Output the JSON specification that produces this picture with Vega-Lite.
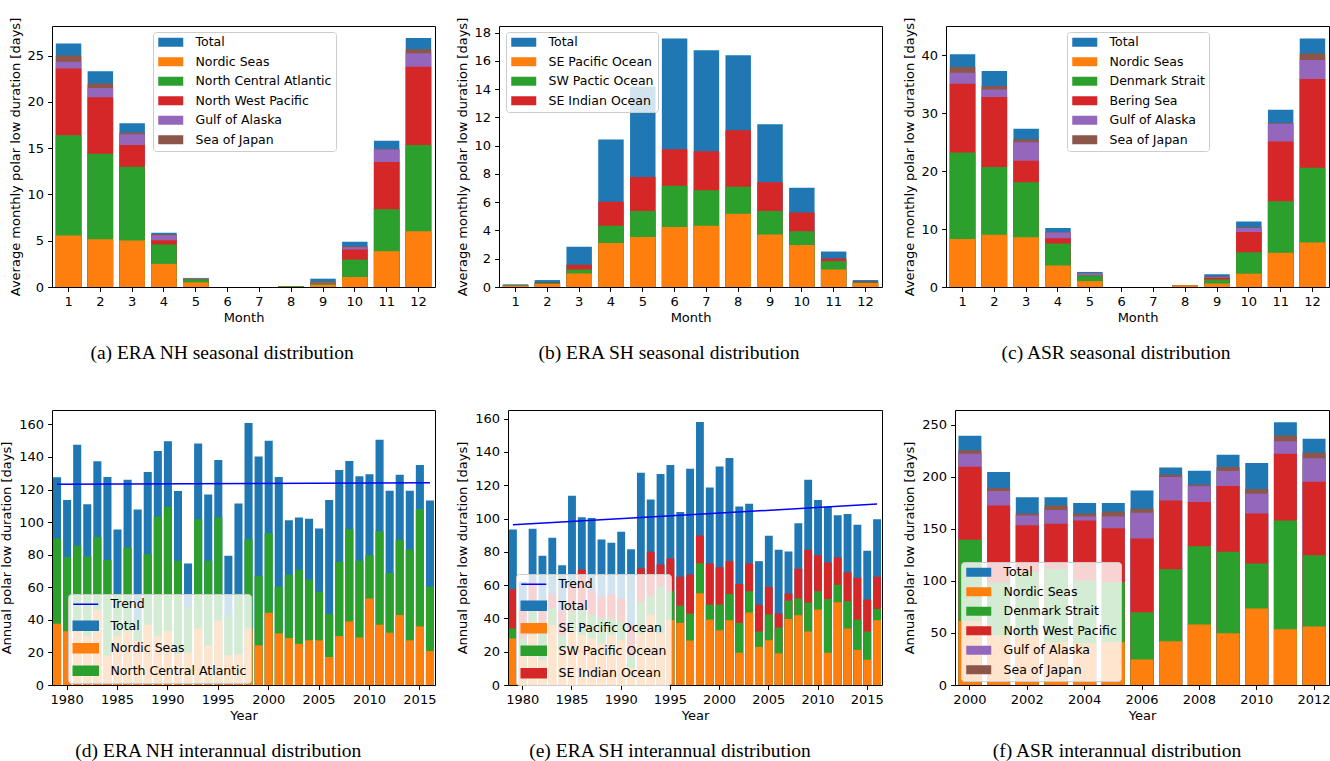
{
  "$schema": "https://vega.github.io/schema/vega-lite/v6.json",
  "padding": {"left": 0, "top": 16, "right": 0, "bottom": 0},
  "background": "white",
  "spacing": 45,
  "resolve": {"scale": {"color": "independent"}, "legend": {"color": "independent"}},
  "vconcat": [
    {
      "hconcat": [
        {
          "width": 383, "height": 261,
          "title": "(a) ERA NH seasonal distribution",
          "data": {"values": [
            {"m":1,"s":"Total","v":26.3},{"m":2,"s":"Total","v":23.3},{"m":3,"s":"Total","v":17.7},{"m":4,"s":"Total","v":5.85},{"m":5,"s":"Total","v":0.98},{"m":6,"s":"Total","v":0},{"m":7,"s":"Total","v":0},{"m":8,"s":"Total","v":0.1},{"m":9,"s":"Total","v":0.9},{"m":10,"s":"Total","v":4.9},{"m":11,"s":"Total","v":15.8},{"m":12,"s":"Total","v":26.9},
            {"m":1,"s":"Sea of Japan","v":25.0},{"m":2,"s":"Sea of Japan","v":22.0},{"m":3,"s":"Sea of Japan","v":16.7},{"m":4,"s":"Sea of Japan","v":5.7},{"m":5,"s":"Sea of Japan","v":0.96},{"m":8,"s":"Sea of Japan","v":0.1},{"m":9,"s":"Sea of Japan","v":0.6},{"m":10,"s":"Sea of Japan","v":4.4},{"m":11,"s":"Sea of Japan","v":14.9},{"m":12,"s":"Sea of Japan","v":25.7},
            {"m":1,"s":"Gulf of Alaska","v":24.35},{"m":2,"s":"Gulf of Alaska","v":21.5},{"m":3,"s":"Gulf of Alaska","v":16.5},{"m":4,"s":"Gulf of Alaska","v":5.6},{"m":5,"s":"Gulf of Alaska","v":0.95},{"m":8,"s":"Gulf of Alaska","v":0.1},{"m":9,"s":"Gulf of Alaska","v":0.55},{"m":10,"s":"Gulf of Alaska","v":4.3},{"m":11,"s":"Gulf of Alaska","v":14.85},{"m":12,"s":"Gulf of Alaska","v":25.25},
            {"m":1,"s":"North West Pacific","v":23.6},{"m":2,"s":"North West Pacific","v":20.5},{"m":3,"s":"North West Pacific","v":15.35},{"m":4,"s":"North West Pacific","v":5.05},{"m":5,"s":"North West Pacific","v":0.87},{"m":8,"s":"North West Pacific","v":0.1},{"m":9,"s":"North West Pacific","v":0.47},{"m":10,"s":"North West Pacific","v":4.05},{"m":11,"s":"North West Pacific","v":13.5},{"m":12,"s":"North West Pacific","v":23.8},
            {"m":1,"s":"North Central Atlantic","v":16.4},{"m":2,"s":"North Central Atlantic","v":14.4},{"m":3,"s":"North Central Atlantic","v":13.0},{"m":4,"s":"North Central Atlantic","v":4.6},{"m":5,"s":"North Central Atlantic","v":0.85},{"m":8,"s":"North Central Atlantic","v":0.1},{"m":9,"s":"North Central Atlantic","v":0.4},{"m":10,"s":"North Central Atlantic","v":2.96},{"m":11,"s":"North Central Atlantic","v":8.4},{"m":12,"s":"North Central Atlantic","v":15.35},
            {"m":1,"s":"Nordic Seas","v":5.56},{"m":2,"s":"Nordic Seas","v":5.17},{"m":3,"s":"Nordic Seas","v":5.02},{"m":4,"s":"Nordic Seas","v":2.5},{"m":5,"s":"Nordic Seas","v":0.5},{"m":8,"s":"Nordic Seas","v":0.02},{"m":9,"s":"Nordic Seas","v":0.25},{"m":10,"s":"Nordic Seas","v":1.08},{"m":11,"s":"Nordic Seas","v":3.87},{"m":12,"s":"Nordic Seas","v":6.03}
          ]},
          "mark": "bar",
          "encoding": {
            "x": {"field": "m", "type": "ordinal", "title": "Month", "scale": {"paddingInner": 0.2, "paddingOuter": 0.12}},
            "y": {"field": "v", "type": "quantitative", "stack": null, "title": "Average monthly polar low duration [days]", "scale": {"domain": [0, 28.2], "nice": false}, "axis": {"values": [0, 5, 10, 15, 20, 25]}},
            "color": {"field": "s", "type": "nominal",
              "scale": {"domain": ["Total", "Nordic Seas", "North Central Atlantic", "North West Pacific", "Gulf of Alaska", "Sea of Japan"], "range": ["#1f77b4", "#ff7f0e", "#2ca02c", "#d62728", "#9467bd", "#8c564b"]},
              "legend": {"title": null, "orient": "none", "legendX": 101, "legendY": 6}}
          }
        },
        {
          "width": 383, "height": 261,
          "title": "(b) ERA SH seasonal distribution",
          "data": {"values": [
            {"m":1,"s":"Total","v":0.19},{"m":2,"s":"Total","v":0.49},{"m":3,"s":"Total","v":2.84},{"m":4,"s":"Total","v":10.44},{"m":5,"s":"Total","v":14.17},{"m":6,"s":"Total","v":17.58},{"m":7,"s":"Total","v":16.76},{"m":8,"s":"Total","v":16.4},{"m":9,"s":"Total","v":11.52},{"m":10,"s":"Total","v":7.02},{"m":11,"s":"Total","v":2.51},{"m":12,"s":"Total","v":0.49},
            {"m":1,"s":"SE Indian Ocean","v":0.14},{"m":2,"s":"SE Indian Ocean","v":0.33},{"m":3,"s":"SE Indian Ocean","v":1.57},{"m":4,"s":"SE Indian Ocean","v":6.03},{"m":5,"s":"SE Indian Ocean","v":7.79},{"m":6,"s":"SE Indian Ocean","v":9.74},{"m":7,"s":"SE Indian Ocean","v":9.6},{"m":8,"s":"SE Indian Ocean","v":11.1},{"m":9,"s":"SE Indian Ocean","v":7.42},{"m":10,"s":"SE Indian Ocean","v":5.28},{"m":11,"s":"SE Indian Ocean","v":2.02},{"m":12,"s":"SE Indian Ocean","v":0.38},
            {"m":1,"s":"SW Pactic Ocean","v":0.12},{"m":2,"s":"SW Pactic Ocean","v":0.28},{"m":3,"s":"SW Pactic Ocean","v":1.24},{"m":4,"s":"SW Pactic Ocean","v":4.34},{"m":5,"s":"SW Pactic Ocean","v":5.37},{"m":6,"s":"SW Pactic Ocean","v":7.16},{"m":7,"s":"SW Pactic Ocean","v":6.85},{"m":8,"s":"SW Pactic Ocean","v":7.09},{"m":9,"s":"SW Pactic Ocean","v":5.37},{"m":10,"s":"SW Pactic Ocean","v":3.94},{"m":11,"s":"SW Pactic Ocean","v":1.83},{"m":12,"s":"SW Pactic Ocean","v":0.33},
            {"m":1,"s":"SE Pacific Ocean","v":0.09},{"m":2,"s":"SE Pacific Ocean","v":0.21},{"m":3,"s":"SE Pacific Ocean","v":0.96},{"m":4,"s":"SE Pacific Ocean","v":3.12},{"m":5,"s":"SE Pacific Ocean","v":3.54},{"m":6,"s":"SE Pacific Ocean","v":4.25},{"m":7,"s":"SE Pacific Ocean","v":4.34},{"m":8,"s":"SE Pacific Ocean","v":5.19},{"m":9,"s":"SE Pacific Ocean","v":3.71},{"m":10,"s":"SE Pacific Ocean","v":2.98},{"m":11,"s":"SE Pacific Ocean","v":1.24},{"m":12,"s":"SE Pacific Ocean","v":0.28}
          ]},
          "mark": "bar",
          "encoding": {
            "x": {"field": "m", "type": "ordinal", "title": "Month", "scale": {"paddingInner": 0.2, "paddingOuter": 0.12}},
            "y": {"field": "v", "type": "quantitative", "stack": null, "title": "Average monthly polar low duration [days]", "scale": {"domain": [0, 18.47], "nice": false}, "axis": {"values": [0, 2, 4, 6, 8, 10, 12, 14, 16, 18]}},
            "color": {"field": "s", "type": "nominal",
              "scale": {"domain": ["Total", "SE Pacific Ocean", "SW Pactic Ocean", "SE Indian Ocean"], "range": ["#1f77b4", "#ff7f0e", "#2ca02c", "#d62728"]},
              "legend": {"title": null, "orient": "none", "legendX": 7, "legendY": 6}}
          }
        },
        {
          "width": 383, "height": 261,
          "title": "(c) ASR seasonal distribution",
          "data": {"values": [
            {"m":1,"s":"Total","v":40.2},{"m":2,"s":"Total","v":37.3},{"m":3,"s":"Total","v":27.3},{"m":4,"s":"Total","v":10.2},{"m":5,"s":"Total","v":2.6},{"m":6,"s":"Total","v":0},{"m":7,"s":"Total","v":0},{"m":8,"s":"Total","v":0.3},{"m":9,"s":"Total","v":2.2},{"m":10,"s":"Total","v":11.3},{"m":11,"s":"Total","v":30.6},{"m":12,"s":"Total","v":42.9},
            {"m":1,"s":"Sea of Japan","v":38.0},{"m":2,"s":"Sea of Japan","v":34.7},{"m":3,"s":"Sea of Japan","v":25.5},{"m":4,"s":"Sea of Japan","v":9.5},{"m":5,"s":"Sea of Japan","v":2.4},{"m":8,"s":"Sea of Japan","v":0.3},{"m":9,"s":"Sea of Japan","v":1.8},{"m":10,"s":"Sea of Japan","v":10.3},{"m":11,"s":"Sea of Japan","v":28.3},{"m":12,"s":"Sea of Japan","v":40.3},
            {"m":1,"s":"Gulf of Alaska","v":37.0},{"m":2,"s":"Gulf of Alaska","v":34.1},{"m":3,"s":"Gulf of Alaska","v":25.0},{"m":4,"s":"Gulf of Alaska","v":9.4},{"m":5,"s":"Gulf of Alaska","v":2.35},{"m":8,"s":"Gulf of Alaska","v":0.3},{"m":9,"s":"Gulf of Alaska","v":1.75},{"m":10,"s":"Gulf of Alaska","v":10.2},{"m":11,"s":"Gulf of Alaska","v":28.2},{"m":12,"s":"Gulf of Alaska","v":39.2},
            {"m":1,"s":"Bering Sea","v":35.1},{"m":2,"s":"Bering Sea","v":32.8},{"m":3,"s":"Bering Sea","v":21.8},{"m":4,"s":"Bering Sea","v":8.4},{"m":5,"s":"Bering Sea","v":2.0},{"m":8,"s":"Bering Sea","v":0.3},{"m":9,"s":"Bering Sea","v":1.6},{"m":10,"s":"Bering Sea","v":9.5},{"m":11,"s":"Bering Sea","v":25.1},{"m":12,"s":"Bering Sea","v":35.9},
            {"m":1,"s":"Denmark Strait","v":23.2},{"m":2,"s":"Denmark Strait","v":20.7},{"m":3,"s":"Denmark Strait","v":18.1},{"m":4,"s":"Denmark Strait","v":7.5},{"m":5,"s":"Denmark Strait","v":2.0},{"m":8,"s":"Denmark Strait","v":0.3},{"m":9,"s":"Denmark Strait","v":1.3},{"m":10,"s":"Denmark Strait","v":6.0},{"m":11,"s":"Denmark Strait","v":14.8},{"m":12,"s":"Denmark Strait","v":20.6},
            {"m":1,"s":"Nordic Seas","v":8.3},{"m":2,"s":"Nordic Seas","v":9.0},{"m":3,"s":"Nordic Seas","v":8.6},{"m":4,"s":"Nordic Seas","v":3.7},{"m":5,"s":"Nordic Seas","v":1.0},{"m":8,"s":"Nordic Seas","v":0.3},{"m":9,"s":"Nordic Seas","v":0.6},{"m":10,"s":"Nordic Seas","v":2.3},{"m":11,"s":"Nordic Seas","v":5.9},{"m":12,"s":"Nordic Seas","v":7.7}
          ]},
          "mark": "bar",
          "encoding": {
            "x": {"field": "m", "type": "ordinal", "title": "Month", "scale": {"paddingInner": 0.2, "paddingOuter": 0.12}},
            "y": {"field": "v", "type": "quantitative", "stack": null, "title": "Average monthly polar low duration [days]", "scale": {"domain": [0, 45.06], "nice": false}, "axis": {"values": [0, 10, 20, 30, 40]}},
            "color": {"field": "s", "type": "nominal",
              "scale": {"domain": ["Total", "Nordic Seas", "Denmark Strait", "Bering Sea", "Gulf of Alaska", "Sea of Japan"], "range": ["#1f77b4", "#ff7f0e", "#2ca02c", "#d62728", "#9467bd", "#8c564b"]},
              "legend": {"title": null, "orient": "none", "legendX": 121, "legendY": 6}}
          }
        }
      ],
      "spacing": 64,
      "bounds": "flush",
      "resolve": {"scale": {"color": "independent"}, "legend": {"color": "independent"}}
    },
    {
      "hconcat": [
        {
          "width": 383, "height": 275,
          "title": "(d) ERA NH interannual distribution",
          "encoding": {
            "x": {"field": "year", "type": "ordinal", "title": "Year", "scale": {"paddingInner": 0.2, "paddingOuter": 0.1}, "axis": {"values": [1980, 1985, 1990, 1995, 2000, 2005, 2010, 2015]}},
            "y": {"field": "v", "type": "quantitative", "stack": null, "title": "Annual polar low duration [days]", "scale": {"domain": [0, 168.8], "nice": false}, "axis": {"values": [0, 20, 40, 60, 80, 100, 120, 140, 160]}},
            "color": {"field": "s", "type": "nominal",
              "scale": {"domain": ["Trend", "Total", "Nordic Seas", "North Central Atlantic"], "range": ["#0000ff", "#1f77b4", "#ff7f0e", "#2ca02c"]},
              "legend": {"title": null, "orient": "none", "legendX": 16, "legendY": 184,
                "encode": {"symbols": {"update": {
                  "shape": {"signal": "datum.value === 'Trend' ? 'M-1,0L4,0' : 'M-1,-0.9L4,-0.9L4,0.9L-1,0.9Z'"},
                  "fill": {"signal": "datum.value === 'Trend' ? 'transparent' : datum.value === 'Total' ? '#1f77b4' : datum.value === 'Nordic Seas' ? '#ff7f0e' : '#2ca02c'"},
                  "stroke": {"signal": "datum.value === 'Trend' ? '#0000ff' : 'transparent'"},
                  "strokeWidth": {"value": 1.5},
                  "opacity": {"value": 1}
                }}}}}
          },
          "layer": [
            {
              "data": {"values": [
                {"year":1979,"s":"Total","v":127.5},{"year":1980,"s":"Total","v":113.6},{"year":1981,"s":"Total","v":147.5},{"year":1982,"s":"Total","v":111},{"year":1983,"s":"Total","v":137.3},{"year":1984,"s":"Total","v":127.7},{"year":1985,"s":"Total","v":95.4},{"year":1986,"s":"Total","v":126},{"year":1987,"s":"Total","v":107.7},{"year":1988,"s":"Total","v":130.8},{"year":1989,"s":"Total","v":143.6},{"year":1990,"s":"Total","v":149.6},{"year":1991,"s":"Total","v":119.1},{"year":1992,"s":"Total","v":74.6},{"year":1993,"s":"Total","v":148.3},{"year":1994,"s":"Total","v":116.9},{"year":1995,"s":"Total","v":138.1},{"year":1996,"s":"Total","v":79.3},{"year":1997,"s":"Total","v":111.4},{"year":1998,"s":"Total","v":160.8},{"year":1999,"s":"Total","v":140.2},{"year":2000,"s":"Total","v":150},{"year":2001,"s":"Total","v":127.7},{"year":2002,"s":"Total","v":101.1},{"year":2003,"s":"Total","v":102.8},{"year":2004,"s":"Total","v":102},{"year":2005,"s":"Total","v":96},{"year":2006,"s":"Total","v":113.6},{"year":2007,"s":"Total","v":132},{"year":2008,"s":"Total","v":137.5},{"year":2009,"s":"Total","v":128.1},{"year":2010,"s":"Total","v":129.3},{"year":2011,"s":"Total","v":150.6},{"year":2012,"s":"Total","v":119.3},{"year":2013,"s":"Total","v":129},{"year":2014,"s":"Total","v":119.3},{"year":2015,"s":"Total","v":135},{"year":2016,"s":"Total","v":113.2},
                {"year":1979,"s":"North Central Atlantic","v":90.1},{"year":1980,"s":"North Central Atlantic","v":78.5},{"year":1981,"s":"North Central Atlantic","v":85.4},{"year":1982,"s":"North Central Atlantic","v":78.9},{"year":1983,"s":"North Central Atlantic","v":90.9},{"year":1984,"s":"North Central Atlantic","v":76.8},{"year":1985,"s":"North Central Atlantic","v":56},{"year":1986,"s":"North Central Atlantic","v":84.2},{"year":1987,"s":"North Central Atlantic","v":40},{"year":1988,"s":"North Central Atlantic","v":80.3},{"year":1989,"s":"North Central Atlantic","v":103.2},{"year":1990,"s":"North Central Atlantic","v":109.3},{"year":1991,"s":"North Central Atlantic","v":76.2},{"year":1992,"s":"North Central Atlantic","v":48},{"year":1993,"s":"North Central Atlantic","v":101.8},{"year":1994,"s":"North Central Atlantic","v":76.2},{"year":1995,"s":"North Central Atlantic","v":102.8},{"year":1996,"s":"North Central Atlantic","v":43},{"year":1997,"s":"North Central Atlantic","v":56},{"year":1998,"s":"North Central Atlantic","v":89.5},{"year":1999,"s":"North Central Atlantic","v":67},{"year":2000,"s":"North Central Atlantic","v":93.2},{"year":2001,"s":"North Central Atlantic","v":60.5},{"year":2002,"s":"North Central Atlantic","v":67.6},{"year":2003,"s":"North Central Atlantic","v":70.7},{"year":2004,"s":"North Central Atlantic","v":64.8},{"year":2005,"s":"North Central Atlantic","v":57.2},{"year":2006,"s":"North Central Atlantic","v":43.7},{"year":2007,"s":"North Central Atlantic","v":75.6},{"year":2008,"s":"North Central Atlantic","v":95.6},{"year":2009,"s":"North Central Atlantic","v":76.2},{"year":2010,"s":"North Central Atlantic","v":79.7},{"year":2011,"s":"North Central Atlantic","v":94.4},{"year":2012,"s":"North Central Atlantic","v":68.7},{"year":2013,"s":"North Central Atlantic","v":89.1},{"year":2014,"s":"North Central Atlantic","v":83.2},{"year":2015,"s":"North Central Atlantic","v":108.1},{"year":2016,"s":"North Central Atlantic","v":60.3},
                {"year":1979,"s":"Nordic Seas","v":37.6},{"year":1980,"s":"Nordic Seas","v":33},{"year":1981,"s":"Nordic Seas","v":35},{"year":1982,"s":"Nordic Seas","v":30},{"year":1983,"s":"Nordic Seas","v":46},{"year":1984,"s":"Nordic Seas","v":18},{"year":1985,"s":"Nordic Seas","v":30},{"year":1986,"s":"Nordic Seas","v":33},{"year":1987,"s":"Nordic Seas","v":27},{"year":1988,"s":"Nordic Seas","v":37},{"year":1989,"s":"Nordic Seas","v":30},{"year":1990,"s":"Nordic Seas","v":33},{"year":1991,"s":"Nordic Seas","v":19.2},{"year":1992,"s":"Nordic Seas","v":19.6},{"year":1993,"s":"Nordic Seas","v":34.7},{"year":1994,"s":"Nordic Seas","v":24.3},{"year":1995,"s":"Nordic Seas","v":39.4},{"year":1996,"s":"Nordic Seas","v":18.2},{"year":1997,"s":"Nordic Seas","v":18.6},{"year":1998,"s":"Nordic Seas","v":34.7},{"year":1999,"s":"Nordic Seas","v":24.3},{"year":2000,"s":"Nordic Seas","v":44.3},{"year":2001,"s":"Nordic Seas","v":31.7},{"year":2002,"s":"Nordic Seas","v":28.8},{"year":2003,"s":"Nordic Seas","v":25.3},{"year":2004,"s":"Nordic Seas","v":27.4},{"year":2005,"s":"Nordic Seas","v":27.4},{"year":2006,"s":"Nordic Seas","v":17.2},{"year":2007,"s":"Nordic Seas","v":30},{"year":2008,"s":"Nordic Seas","v":39},{"year":2009,"s":"Nordic Seas","v":29.2},{"year":2010,"s":"Nordic Seas","v":53.1},{"year":2011,"s":"Nordic Seas","v":37},{"year":2012,"s":"Nordic Seas","v":32.1},{"year":2013,"s":"Nordic Seas","v":42.9},{"year":2014,"s":"Nordic Seas","v":27.4},{"year":2015,"s":"Nordic Seas","v":36},{"year":2016,"s":"Nordic Seas","v":20.8}
              ]},
              "mark": "bar"
            },
            {
              "data": {"values": [{"year":1979,"s":"Trend","v":123.2},{"year":2016,"s":"Trend","v":124.1}]},
              "mark": {"type": "line", "strokeWidth": 1.5}
            }
          ]
        },
        {
          "width": 374, "height": 275,
          "title": "(e) ERA SH interannual distribution",
          "encoding": {
            "x": {"field": "year", "type": "ordinal", "title": "Year", "scale": {"paddingInner": 0.2, "paddingOuter": 0.1}, "axis": {"values": [1980, 1985, 1990, 1995, 2000, 2005, 2010, 2015]}},
            "y": {"field": "v", "type": "quantitative", "stack": null, "title": "Annual polar low duration [days]", "scale": {"domain": [0, 165.2], "nice": false}, "axis": {"values": [0, 20, 40, 60, 80, 100, 120, 140, 160]}},
            "color": {"field": "s", "type": "nominal",
              "scale": {"domain": ["Trend", "Total", "SE Pacific Ocean", "SW Pacific Ocean", "SE Indian Ocean"], "range": ["#0000ff", "#1f77b4", "#ff7f0e", "#2ca02c", "#d62728"]},
              "legend": {"title": null, "orient": "none", "legendX": 8, "legendY": 164,
                "encode": {"symbols": {"update": {
                  "shape": {"signal": "datum.value === 'Trend' ? 'M-1,0L4,0' : 'M-1,-0.9L4,-0.9L4,0.9L-1,0.9Z'"},
                  "fill": {"signal": "datum.value === 'Trend' ? 'transparent' : datum.value === 'Total' ? '#1f77b4' : datum.value === 'SE Pacific Ocean' ? '#ff7f0e' : datum.value === 'SW Pacific Ocean' ? '#2ca02c' : '#d62728'"},
                  "stroke": {"signal": "datum.value === 'Trend' ? '#0000ff' : 'transparent'"},
                  "strokeWidth": {"value": 1.5},
                  "opacity": {"value": 1}
                }}}}}
          },
          "layer": [
            {
              "data": {"values": [
                {"year":1979,"s":"Total","v":93.4},{"year":1980,"s":"Total","v":62},{"year":1981,"s":"Total","v":93.8},{"year":1982,"s":"Total","v":77.6},{"year":1983,"s":"Total","v":88.4},{"year":1984,"s":"Total","v":72},{"year":1985,"s":"Total","v":113.7},{"year":1986,"s":"Total","v":100.7},{"year":1987,"s":"Total","v":100.3},{"year":1988,"s":"Total","v":87.4},{"year":1989,"s":"Total","v":85.4},{"year":1990,"s":"Total","v":92},{"year":1991,"s":"Total","v":81.6},{"year":1992,"s":"Total","v":127.5},{"year":1993,"s":"Total","v":111.5},{"year":1994,"s":"Total","v":126.7},{"year":1995,"s":"Total","v":132.1},{"year":1996,"s":"Total","v":103.9},{"year":1997,"s":"Total","v":129.9},{"year":1998,"s":"Total","v":158},{"year":1999,"s":"Total","v":118.7},{"year":2000,"s":"Total","v":131.3},{"year":2001,"s":"Total","v":136.3},{"year":2002,"s":"Total","v":107.3},{"year":2003,"s":"Total","v":108.9},{"year":2004,"s":"Total","v":74.4},{"year":2005,"s":"Total","v":89.6},{"year":2006,"s":"Total","v":81.2},{"year":2007,"s":"Total","v":80.2},{"year":2008,"s":"Total","v":97.2},{"year":2009,"s":"Total","v":123.3},{"year":2010,"s":"Total","v":111.1},{"year":2011,"s":"Total","v":107.1},{"year":2012,"s":"Total","v":101.9},{"year":2013,"s":"Total","v":102.7},{"year":2014,"s":"Total","v":96.2},{"year":2015,"s":"Total","v":80.6},{"year":2016,"s":"Total","v":99.6},
                {"year":1979,"s":"SE Indian Ocean","v":57.5},{"year":1980,"s":"SE Indian Ocean","v":45},{"year":1981,"s":"SE Indian Ocean","v":62},{"year":1982,"s":"SE Indian Ocean","v":50},{"year":1983,"s":"SE Indian Ocean","v":54.7},{"year":1984,"s":"SE Indian Ocean","v":45},{"year":1985,"s":"SE Indian Ocean","v":60},{"year":1986,"s":"SE Indian Ocean","v":69.4},{"year":1987,"s":"SE Indian Ocean","v":56.7},{"year":1988,"s":"SE Indian Ocean","v":53},{"year":1989,"s":"SE Indian Ocean","v":54.5},{"year":1990,"s":"SE Indian Ocean","v":52},{"year":1991,"s":"SE Indian Ocean","v":36},{"year":1992,"s":"SE Indian Ocean","v":70.2},{"year":1993,"s":"SE Indian Ocean","v":80},{"year":1994,"s":"SE Indian Ocean","v":72.4},{"year":1995,"s":"SE Indian Ocean","v":76},{"year":1996,"s":"SE Indian Ocean","v":65},{"year":1997,"s":"SE Indian Ocean","v":66.4},{"year":1998,"s":"SE Indian Ocean","v":89.8},{"year":1999,"s":"SE Indian Ocean","v":73},{"year":2000,"s":"SE Indian Ocean","v":70.8},{"year":2001,"s":"SE Indian Ocean","v":74.4},{"year":2002,"s":"SE Indian Ocean","v":60.6},{"year":2003,"s":"SE Indian Ocean","v":73},{"year":2004,"s":"SE Indian Ocean","v":48.3},{"year":2005,"s":"SE Indian Ocean","v":58.9},{"year":2006,"s":"SE Indian Ocean","v":42.9},{"year":2007,"s":"SE Indian Ocean","v":54.9},{"year":2008,"s":"SE Indian Ocean","v":69.8},{"year":2009,"s":"SE Indian Ocean","v":81.2},{"year":2010,"s":"SE Indian Ocean","v":78},{"year":2011,"s":"SE Indian Ocean","v":73.6},{"year":2012,"s":"SE Indian Ocean","v":76.6},{"year":2013,"s":"SE Indian Ocean","v":67.8},{"year":2014,"s":"SE Indian Ocean","v":64.4},{"year":2015,"s":"SE Indian Ocean","v":51.3},{"year":2016,"s":"SE Indian Ocean","v":65},
                {"year":1979,"s":"SW Pacific Ocean","v":33.9},{"year":1980,"s":"SW Pacific Ocean","v":28},{"year":1981,"s":"SW Pacific Ocean","v":48},{"year":1982,"s":"SW Pacific Ocean","v":32},{"year":1983,"s":"SW Pacific Ocean","v":46.3},{"year":1984,"s":"SW Pacific Ocean","v":30},{"year":1985,"s":"SW Pacific Ocean","v":44},{"year":1986,"s":"SW Pacific Ocean","v":45},{"year":1987,"s":"SW Pacific Ocean","v":42},{"year":1988,"s":"SW Pacific Ocean","v":40},{"year":1989,"s":"SW Pacific Ocean","v":40},{"year":1990,"s":"SW Pacific Ocean","v":38},{"year":1991,"s":"SW Pacific Ocean","v":17},{"year":1992,"s":"SW Pacific Ocean","v":50},{"year":1993,"s":"SW Pacific Ocean","v":53.7},{"year":1994,"s":"SW Pacific Ocean","v":59},{"year":1995,"s":"SW Pacific Ocean","v":56.3},{"year":1996,"s":"SW Pacific Ocean","v":47.7},{"year":1997,"s":"SW Pacific Ocean","v":42.9},{"year":1998,"s":"SW Pacific Ocean","v":73.2},{"year":1999,"s":"SW Pacific Ocean","v":48.3},{"year":2000,"s":"SW Pacific Ocean","v":48.3},{"year":2001,"s":"SW Pacific Ocean","v":54.7},{"year":2002,"s":"SW Pacific Ocean","v":37.3},{"year":2003,"s":"SW Pacific Ocean","v":56.3},{"year":2004,"s":"SW Pacific Ocean","v":32.1},{"year":2005,"s":"SW Pacific Ocean","v":42.3},{"year":2006,"s":"SW Pacific Ocean","v":34.5},{"year":2007,"s":"SW Pacific Ocean","v":50.7},{"year":2008,"s":"SW Pacific Ocean","v":52.1},{"year":2009,"s":"SW Pacific Ocean","v":49.5},{"year":2010,"s":"SW Pacific Ocean","v":56.3},{"year":2011,"s":"SW Pacific Ocean","v":51.7},{"year":2012,"s":"SW Pacific Ocean","v":60.2},{"year":2013,"s":"SW Pacific Ocean","v":50.3},{"year":2014,"s":"SW Pacific Ocean","v":39.3},{"year":2015,"s":"SW Pacific Ocean","v":32.1},{"year":2016,"s":"SW Pacific Ocean","v":45.7},
                {"year":1979,"s":"SE Pacific Ocean","v":27.9},{"year":1980,"s":"SE Pacific Ocean","v":18},{"year":1981,"s":"SE Pacific Ocean","v":30},{"year":1982,"s":"SE Pacific Ocean","v":15},{"year":1983,"s":"SE Pacific Ocean","v":36},{"year":1984,"s":"SE Pacific Ocean","v":22},{"year":1985,"s":"SE Pacific Ocean","v":32},{"year":1986,"s":"SE Pacific Ocean","v":30},{"year":1987,"s":"SE Pacific Ocean","v":28},{"year":1988,"s":"SE Pacific Ocean","v":25},{"year":1989,"s":"SE Pacific Ocean","v":30},{"year":1990,"s":"SE Pacific Ocean","v":27},{"year":1991,"s":"SE Pacific Ocean","v":10},{"year":1992,"s":"SE Pacific Ocean","v":31},{"year":1993,"s":"SE Pacific Ocean","v":42.3},{"year":1994,"s":"SE Pacific Ocean","v":31},{"year":1995,"s":"SE Pacific Ocean","v":39},{"year":1996,"s":"SE Pacific Ocean","v":37.3},{"year":1997,"s":"SE Pacific Ocean","v":26.7},{"year":1998,"s":"SE Pacific Ocean","v":55.1},{"year":1999,"s":"SE Pacific Ocean","v":39.3},{"year":2000,"s":"SE Pacific Ocean","v":32.9},{"year":2001,"s":"SE Pacific Ocean","v":38.9},{"year":2002,"s":"SE Pacific Ocean","v":19.4},{"year":2003,"s":"SE Pacific Ocean","v":43.5},{"year":2004,"s":"SE Pacific Ocean","v":22.9},{"year":2005,"s":"SE Pacific Ocean","v":26.9},{"year":2006,"s":"SE Pacific Ocean","v":19},{"year":2007,"s":"SE Pacific Ocean","v":39.7},{"year":2008,"s":"SE Pacific Ocean","v":41.9},{"year":2009,"s":"SE Pacific Ocean","v":32.1},{"year":2010,"s":"SE Pacific Ocean","v":45.3},{"year":2011,"s":"SE Pacific Ocean","v":19.4},{"year":2012,"s":"SE Pacific Ocean","v":49.7},{"year":2013,"s":"SE Pacific Ocean","v":33.9},{"year":2014,"s":"SE Pacific Ocean","v":21.1},{"year":2015,"s":"SE Pacific Ocean","v":15.2},{"year":2016,"s":"SE Pacific Ocean","v":38.9}
              ]},
              "mark": "bar"
            },
            {
              "data": {"values": [{"year":1979,"s":"Trend","v":96.2},{"year":2016,"s":"Trend","v":108.7}]},
              "mark": {"type": "line", "strokeWidth": 1.5}
            }
          ]
        },
        {
          "width": 374, "height": 275,
          "title": "(f) ASR interannual distribution",
          "data": {"values": [
            {"year":2000,"s":"Total","v":239.7},{"year":2001,"s":"Total","v":204.7},{"year":2002,"s":"Total","v":180.4},{"year":2003,"s":"Total","v":180.4},{"year":2004,"s":"Total","v":174.9},{"year":2005,"s":"Total","v":174.9},{"year":2006,"s":"Total","v":187.1},{"year":2007,"s":"Total","v":209.2},{"year":2008,"s":"Total","v":206},{"year":2009,"s":"Total","v":221.4},{"year":2010,"s":"Total","v":213.4},{"year":2011,"s":"Total","v":252.6},{"year":2012,"s":"Total","v":236.8},
            {"year":2000,"s":"Sea of Japan","v":225.6},{"year":2001,"s":"Sea of Japan","v":189.3},{"year":2002,"s":"Sea of Japan","v":165},{"year":2003,"s":"Sea of Japan","v":172.7},{"year":2004,"s":"Sea of Japan","v":165},{"year":2005,"s":"Sea of Japan","v":166.6},{"year":2006,"s":"Sea of Japan","v":169.4},{"year":2007,"s":"Sea of Japan","v":202.2},{"year":2008,"s":"Sea of Japan","v":192.6},{"year":2009,"s":"Sea of Japan","v":209.6},{"year":2010,"s":"Sea of Japan","v":188.4},{"year":2011,"s":"Sea of Japan","v":240},{"year":2012,"s":"Sea of Japan","v":223.4},
            {"year":2000,"s":"Gulf of Alaska","v":222.4},{"year":2001,"s":"Gulf of Alaska","v":186.5},{"year":2002,"s":"Gulf of Alaska","v":163},{"year":2003,"s":"Gulf of Alaska","v":168.2},{"year":2004,"s":"Gulf of Alaska","v":162.1},{"year":2005,"s":"Gulf of Alaska","v":162.1},{"year":2006,"s":"Gulf of Alaska","v":165.6},{"year":2007,"s":"Gulf of Alaska","v":199.9},{"year":2008,"s":"Gulf of Alaska","v":191},{"year":2009,"s":"Gulf of Alaska","v":205.7},{"year":2010,"s":"Gulf of Alaska","v":183.9},{"year":2011,"s":"Gulf of Alaska","v":234.3},{"year":2012,"s":"Gulf of Alaska","v":217.9},
            {"year":2000,"s":"North West Pacific","v":209.9},{"year":2001,"s":"North West Pacific","v":172.7},{"year":2002,"s":"North West Pacific","v":153.7},{"year":2003,"s":"North West Pacific","v":155},{"year":2004,"s":"North West Pacific","v":158.2},{"year":2005,"s":"North West Pacific","v":150.8},{"year":2006,"s":"North West Pacific","v":140.9},{"year":2007,"s":"North West Pacific","v":177.5},{"year":2008,"s":"North West Pacific","v":175.9},{"year":2009,"s":"North West Pacific","v":191.3},{"year":2010,"s":"North West Pacific","v":165},{"year":2011,"s":"North West Pacific","v":222.4},{"year":2012,"s":"North West Pacific","v":195.4},
            {"year":2000,"s":"Denmark Strait","v":139.6},{"year":2001,"s":"Denmark Strait","v":98.5},{"year":2002,"s":"Denmark Strait","v":108.5},{"year":2003,"s":"Denmark Strait","v":111.7},{"year":2004,"s":"Denmark Strait","v":100.4},{"year":2005,"s":"Denmark Strait","v":98.8},{"year":2006,"s":"Denmark Strait","v":70},{"year":2007,"s":"Denmark Strait","v":111.4},{"year":2008,"s":"Denmark Strait","v":133.5},{"year":2009,"s":"Denmark Strait","v":128},{"year":2010,"s":"Denmark Strait","v":116.8},{"year":2011,"s":"Denmark Strait","v":158.2},{"year":2012,"s":"Denmark Strait","v":124.8},
            {"year":2000,"s":"Nordic Seas","v":61.6},{"year":2001,"s":"Nordic Seas","v":47.5},{"year":2002,"s":"Nordic Seas","v":47},{"year":2003,"s":"Nordic Seas","v":41},{"year":2004,"s":"Nordic Seas","v":40},{"year":2005,"s":"Nordic Seas","v":41},{"year":2006,"s":"Nordic Seas","v":24.4},{"year":2007,"s":"Nordic Seas","v":42},{"year":2008,"s":"Nordic Seas","v":58.1},{"year":2009,"s":"Nordic Seas","v":49.7},{"year":2010,"s":"Nordic Seas","v":73.5},{"year":2011,"s":"Nordic Seas","v":53.6},{"year":2012,"s":"Nordic Seas","v":56.2}
          ]},
          "mark": "bar",
          "encoding": {
            "x": {"field": "year", "type": "ordinal", "title": "Year", "scale": {"paddingInner": 0.2, "paddingOuter": 0.12}, "axis": {"values": [2000, 2002, 2004, 2006, 2008, 2010, 2012]}},
            "y": {"field": "v", "type": "quantitative", "stack": null, "title": "Annual polar low duration [days]", "scale": {"domain": [0, 264.4], "nice": false}, "axis": {"values": [0, 50, 100, 150, 200, 250]}},
            "color": {"field": "s", "type": "nominal",
              "scale": {"domain": ["Total", "Nordic Seas", "Denmark Strait", "North West Pacific", "Gulf of Alaska", "Sea of Japan"], "range": ["#1f77b4", "#ff7f0e", "#2ca02c", "#d62728", "#9467bd", "#8c564b"]},
              "legend": {"title": null, "orient": "none", "legendX": 6, "legendY": 152}}
          }
        }
      ],
      "spacing": 73,
      "bounds": "flush",
      "resolve": {"scale": {"color": "independent"}, "legend": {"color": "independent"}}
    }
  ],
  "config": {
    "font": "DejaVu Sans",
    "view": {"stroke": "black", "strokeWidth": 1},
    "axis": {
      "domain": false, "grid": false,
      "tickColor": "black", "tickSize": 4.4, "tickWidth": 1,
      "labelPadding": 4, "labelColor": "black", "labelFont": "DejaVu Sans", "labelFontSize": 13,
      "titleFont": "DejaVu Sans", "titleFontSize": 13, "titleFontWeight": "normal", "titleColor": "black", "titlePadding": 5
    },
    "axisX": {"labelAngle": 0, "titlePadding": 3},
    "legend": {
      "labelFont": "DejaVu Sans", "labelFontSize": 12.5, "labelColor": "black",
      "fillColor": "rgba(255,255,255,0.8)", "strokeColor": "#cccccc", "cornerRadius": 3,
      "padding": 4, "rowPadding": 6.5, "labelOffset": 26,
      "symbolType": "M-1,-0.9L4,-0.9L4,0.9L-1,0.9Z", "symbolSize": 100, "symbolStrokeWidth": 0, "symbolOpacity": 1
    },
    "title": {
      "orient": "bottom", "anchor": "middle", "frame": "bounds",
      "font": "Liberation Serif", "fontSize": 19.5, "fontWeight": "normal", "color": "black", "offset": 20
    }
  }
}
